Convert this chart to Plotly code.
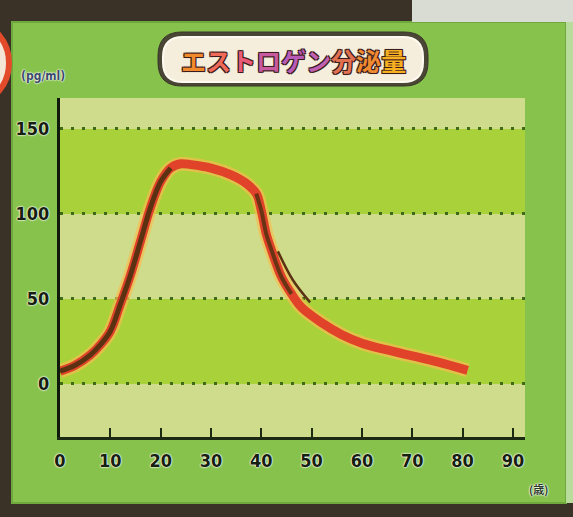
import plotly.graph_objects as go

# Estrogen secretion over a lifetime
ages = [0, 3, 6, 8, 10, 12, 14, 16, 18, 20, 22, 24, 26, 30, 34, 37, 39, 40, 41, 42,
        44, 46, 48, 52, 56, 60, 65, 70, 75, 81]
levels = [7.5, 11, 17, 23, 31, 47, 64, 84, 104, 119, 127, 129.5, 129, 127, 123, 118,
          112, 102, 88, 79, 63, 53, 45, 36, 29, 24, 20, 16.5, 13, 8]

# short parallel stroke beside the falling edge
stroke_ages = [43.3, 46.3, 49.7]
stroke_levels = [78, 61, 48]

x_ticks = [0, 10, 20, 30, 40, 50, 60, 70, 80, 90]
y_ticks = [0, 50, 100, 150]
title_chars = ["エ", "ス", "ト", "ロ", "ゲ", "ン", "分", "泌", "量"]
title_colors = ["#f08a2c", "#f06a5a", "#e85a78", "#c85aa0", "#b85ab8", "#c060b0",
                "#e07050", "#f08a30", "#f6b020"]
y_unit = "(pg/ml)"
x_unit = "(歳)"

X_RANGE = [0, 92.4]
Y_RANGE = [-31.2, 168.2]

# pixel frame of the plotting area (for paper-space decorations)
L, R, T, B = 60, 525, 98, 437


def px(X):
    return (X - L) / (R - L)


def py(Y):
    return (B - Y) / (B - T)


fig = go.Figure()

# soft glow under the curve
fig.add_trace(go.Scatter(x=ages, y=levels, mode="lines",
                         line=dict(color="rgba(246,190,80,0.7)", width=14, shape="spline"),
                         hoverinfo="skip", showlegend=False))
# main red stroke
fig.add_trace(go.Scatter(x=ages, y=levels, mode="lines",
                         line=dict(color="#e0432a", width=9, shape="spline"),
                         showlegend=False))
# dark core on the rising part and on the steep fall
fig.add_trace(go.Scatter(x=ages[:11], y=levels[:11], mode="lines",
                         line=dict(color="#5a3212", width=5, shape="spline"),
                         hoverinfo="skip", showlegend=False))
fig.add_trace(go.Scatter(x=ages[16:22], y=levels[16:22], mode="lines",
                         line=dict(color="#6a3414", width=4, shape="spline"),
                         hoverinfo="skip", showlegend=False))
fig.add_trace(go.Scatter(x=stroke_ages, y=stroke_levels, mode="lines",
                         line=dict(color="#5a3212", width=2.5, shape="spline"),
                         hoverinfo="skip", showlegend=False))

shapes = []
# outer green board
shapes.append(dict(type="rect", xref="paper", yref="paper", layer="below",
                   x0=px(12), x1=px(566), y0=py(503), y1=py(22),
                   fillcolor="#86c24c", line=dict(color="#6fa83c", width=2)))
# strips around the board
shapes.append(dict(type="rect", xref="paper", yref="paper", layer="below",
                   x0=px(412), x1=px(573), y0=py(22), y1=py(0),
                   fillcolor="#d9dcd2", line=dict(width=0)))
shapes.append(dict(type="rect", xref="paper", yref="paper", layer="below",
                   x0=px(566), x1=px(573), y0=py(503), y1=py(22),
                   fillcolor="#b8dc9c", line=dict(width=0)))
# red ring at the upper left
shapes.append(dict(type="circle", xref="paper", yref="paper", layer="below",
                   x0=px(-58), x1=px(9), y0=py(102), y1=py(24),
                   fillcolor="#f4e6d6", line=dict(color="#e24a2a", width=6)))
# alternating bands inside the plot
bands = [(-31.2, 0, "#cfdc8c"), (0, 50, "#a9d13a"), (50, 100, "#cfdc8c"),
         (100, 150, "#a9d13a"), (150, 168.2, "#cfdc8c")]
for y0, y1, c in bands:
    shapes.append(dict(type="rect", xref="x domain", yref="y", layer="below",
                       x0=0, x1=1, y0=y0, y1=y1, fillcolor=c, line=dict(width=0)))


def pill(x0, x1, y0, y1, r):
    rx = r / (R - L)
    ry = r / (B - T)
    return (f"M {x0 + rx},{y0} L {x1 - rx},{y0} Q {x1},{y0} {x1},{y0 + ry} "
            f"L {x1},{y1 - ry} Q {x1},{y1} {x1 - rx},{y1} L {x0 + rx},{y1} "
            f"Q {x0},{y1} {x0},{y1 - ry} L {x0},{y0 + ry} Q {x0},{y0} {x0 + rx},{y0} Z")


# title pill
shapes.append(dict(type="path", xref="paper", yref="paper",
                   path=pill(px(158), px(428), py(86), py(32), 24),
                   fillcolor="#4a4636", line=dict(color="#3a3428", width=1)))
shapes.append(dict(type="path", xref="paper", yref="paper",
                   path=pill(px(163), px(423), py(82), py(37), 20),
                   fillcolor="#f6eedc", line=dict(color="#fffaf0", width=2)))

title_html = "".join(f"<span style='color:{c}'>{ch}</span>"
                     for ch, c in zip(title_chars, title_colors))
outline = ("1px 1px 0 #3a1c1c, -1px -1px 0 #3a1c1c, 1px -1px 0 #3a1c1c, "
           "-1px 1px 0 #3a1c1c, 0 0 2px #3a1c1c")
halo = "0 0 2px #ffffff, 0 0 2px #ffffff, 0 0 1px #ffffff"

annotations = [
    dict(text=title_html, xref="paper", yref="paper", x=px(293), y=py(60),
         showarrow=False, xanchor="center", yanchor="middle",
         font=dict(family="Noto Sans CJK JP", size=25, weight="bold", shadow=outline)),
    dict(text=y_unit, xref="paper", yref="paper", x=px(43), y=py(76),
         showarrow=False, xanchor="center", yanchor="middle",
         font=dict(family="DejaVu Sans Condensed", size=12, weight="bold",
                   color="#3a4a6a", shadow=halo)),
    dict(text=x_unit, xref="paper", yref="paper", x=px(538), y=py(489),
         showarrow=False, xanchor="center", yanchor="middle",
         font=dict(family="Noto Sans CJK JP", size=11, weight="bold",
                   color="#2c3a28", shadow=halo)),
]

tick_font = dict(family="DejaVu Sans Condensed, sans-serif", size=18, weight="bold",
                 color="#15200f", shadow=halo)

fig.update_layout(
    width=573, height=517,
    margin=dict(l=L, r=573 - R, t=T, b=517 - B),
    paper_bgcolor="#3a3226",
    plot_bgcolor="#a9d13a",
    shapes=shapes,
    annotations=annotations,
    showlegend=False,
    xaxis=dict(range=X_RANGE, tickvals=x_ticks, ticktext=[str(v) for v in x_ticks],
               showgrid=False, zeroline=False, showline=True, linecolor="#1c2a14",
               linewidth=3, ticks="inside", ticklen=9, tickwidth=2, tickcolor="#1c2a14",
               tickfont=tick_font, ticklabelstandoff=5, fixedrange=True),
    yaxis=dict(range=Y_RANGE, tickvals=y_ticks, ticktext=[str(v) for v in y_ticks],
               showgrid=True, gridcolor="#3e6a1a", gridwidth=3, griddash="3px,8px",
               zeroline=False, showline=True, linecolor="#101a0c", linewidth=3,
               ticks="", tickfont=tick_font, ticklabelstandoff=4, fixedrange=True),
)

fig.write_html("out.html")
